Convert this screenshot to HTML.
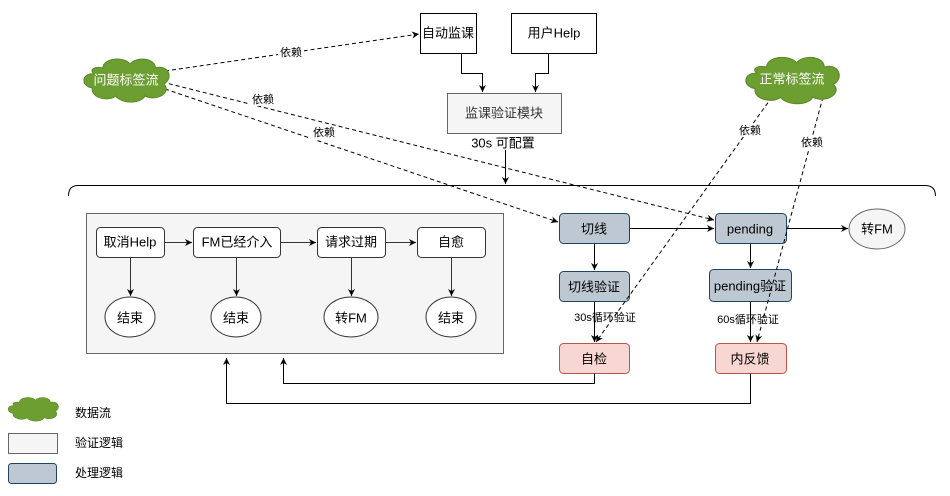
<!DOCTYPE html>
<html><head><meta charset="utf-8"><style>body{margin:0;background:#fff}svg{display:block}text{font-family:"Liberation Sans","Noto Sans CJK SC",sans-serif}</style></head><body>
<svg width="950" height="496" viewBox="0 0 950 496" xmlns="http://www.w3.org/2000/svg">
<defs>
<marker id="a" markerWidth="8" markerHeight="8" refX="7" refY="4" orient="auto" markerUnits="userSpaceOnUse"><path d="M0,0.5 L7,4 L0,7.5 L2,4 Z" fill="#000"/></marker>
<g id="cloud"><path d="M-30,-6 C-42,-8 -44,6 -32,8 C-34,18 -16,22 -10,16 C-4,24 14,24 18,16 C30,22 44,12 36,4 C46,-2 40,-16 28,-12 C28,-22 10,-24 4,-16 C-2,-24 -22,-22 -22,-12 C-30,-14 -36,-10 -30,-6 Z" fill="#6d9e31" stroke="#5b8a28" stroke-width="1"/></g>
</defs>
<g stroke="#000" fill="none" stroke-width="1">
<!-- top boxes -->
<rect x="420.5" y="13.5" width="56" height="40" fill="#fff"/>
<rect x="511.5" y="13.5" width="85" height="40" fill="#fff"/>
<rect x="447.5" y="93.5" width="114" height="40" fill="#f5f5f5" stroke="#666"/>
<path d="M461.5,53 V73.5 H482.5 V92" marker-end="url(#a)"/>
<path d="M548.5,53 V73.5 H535.5 V92" marker-end="url(#a)"/>
<path d="M505.5,150 V184" marker-end="url(#a)"/>
<!-- brace -->
<path d="M68.5,196 Q68.5,185.5 78,185.5 H925 Q935.5,185.5 935.5,196"/>
<!-- gray container -->
<rect x="86.5" y="213.5" width="417" height="140" fill="#f5f5f5" stroke="#666"/>
<g fill="#fff" stroke="#333">
<rect x="96.5" y="227.5" width="68" height="30" rx="4"/>
<rect x="193.5" y="227.5" width="87" height="30" rx="4"/>
<rect x="317.5" y="227.5" width="68" height="30" rx="4"/>
<rect x="417.5" y="227.5" width="68" height="30" rx="4"/>
<ellipse cx="130" cy="317" rx="25" ry="20"/>
<ellipse cx="236" cy="317" rx="25" ry="20"/>
<ellipse cx="351" cy="317" rx="27" ry="20"/>
<ellipse cx="451" cy="317" rx="25" ry="20"/>
</g>
<g stroke="#333">
<path d="M164.5,242.5 H192" marker-end="url(#a)"/>
<path d="M280.5,242.5 H316" marker-end="url(#a)"/>
<path d="M385.5,242.5 H416" marker-end="url(#a)"/>
<path d="M130.5,257.5 V296" marker-end="url(#a)"/>
<path d="M236.5,257.5 V296" marker-end="url(#a)"/>
<path d="M351.5,257.5 V296" marker-end="url(#a)"/>
<path d="M451.5,257.5 V296" marker-end="url(#a)"/>
</g>
<!-- right side -->
<g fill="#bdc8d3" stroke="#23445d">
<rect x="559.5" y="213.5" width="70" height="30" rx="4"/>
<rect x="559.5" y="271.5" width="70" height="30" rx="4"/>
<rect x="715.5" y="213.5" width="71" height="30" rx="4"/>
<rect x="709.5" y="269.5" width="82" height="32" rx="4"/>
</g>
<g fill="#f8d7d3" stroke="#b85450">
<rect x="559.5" y="343.5" width="70" height="30" rx="4"/>
<rect x="715.5" y="343.5" width="71" height="30" rx="4"/>
</g>
<ellipse cx="877" cy="229" rx="28" ry="20" fill="#f5f5f5" stroke="#666"/>
<path d="M629.5,228.5 H714" marker-end="url(#a)"/>
<path d="M786.5,228.5 H848" marker-end="url(#a)"/>
<path d="M594.5,243.5 V270" marker-end="url(#a)"/>
<path d="M750.5,243.5 V268" marker-end="url(#a)"/>
<path d="M594.5,301.5 V342" marker-end="url(#a)"/>
<path d="M750.5,301.5 V342" marker-end="url(#a)"/>
<path d="M594.5,373.5 V383.5 H283.5 V358" marker-end="url(#a)"/>
<path d="M750.5,373.5 V403.5 H226.5 V358" marker-end="url(#a)"/>
<!-- dashed -->
<g stroke-dasharray="4,3">
<path d="M165,71 L419,34" marker-end="url(#a)"/>
<path d="M162,82 L714,220" marker-end="url(#a)"/>
<path d="M165,89 L558,222" marker-end="url(#a)"/>
<path d="M772,97 L596,342" marker-end="url(#a)"/>
<path d="M823,97 L757,342" marker-end="url(#a)"/>
</g>
<!-- legend boxes -->
<rect x="8.5" y="433.5" width="49" height="20" fill="#f5f5f5" stroke="#666"/>
<rect x="8.5" y="463.5" width="48" height="20" rx="3" fill="#bdc8d3" stroke="#23445d"/>
</g>
<use href="#cloud" transform="translate(126,80) scale(1.05,1)"/>
<use href="#cloud" transform="translate(792,80) scale(1.15,1.08)"/>
<use href="#cloud" transform="translate(33,409) scale(0.62,0.55)"/>
<g font-size="13" fill="#000" text-anchor="middle" dominant-baseline="central">
<text x="448" y="33">自动监课</text>
<text x="554" y="33">用户Help</text>
<text x="504" y="113" fill="#333">监课验证模块</text>
<text x="503" y="143">30s 可配置</text>
<text x="126" y="80" fill="#fff">问题标签流</text>
<text x="792" y="79" fill="#fff">正常标签流</text>
<text x="130" y="242">取消Help</text>
<text x="237" y="242">FM已经介入</text>
<text x="351" y="242">请求过期</text>
<text x="451" y="242">自愈</text>
<text x="130" y="318">结束</text>
<text x="236" y="318">结束</text>
<text x="351" y="318">转FM</text>
<text x="451" y="318">结束</text>
<text x="594" y="229">切线</text>
<text x="594" y="287">切线验证</text>
<text x="594" y="359">自检</text>
<text x="750" y="229">pending</text>
<text x="750" y="286">pending验证</text>
<text x="750" y="359">内反馈</text>
<text x="877" y="229">转FM</text>
</g>
<g font-size="11" fill="#000" text-anchor="middle" dominant-baseline="central">
<rect x="278" y="46" width="26" height="13" fill="#fff"/><text x="291" y="53">依赖</text>
<rect x="250" y="93" width="26" height="13" fill="#fff"/><text x="263" y="100">依赖</text>
<rect x="311" y="127" width="26" height="13" fill="#fff"/><text x="324" y="133">依赖</text>
<rect x="737" y="124" width="26" height="13" fill="#fff"/><text x="750" y="131">依赖</text>
<rect x="799" y="136" width="26" height="13" fill="#fff"/><text x="812" y="143">依赖</text>
<text x="605" y="318">30s循环验证</text>
<text x="748" y="320">60s循环验证</text>
</g>
<g font-size="12" fill="#000" dominant-baseline="central">
<text x="75" y="413">数据流</text>
<text x="75" y="443">验证逻辑</text>
<text x="75" y="473">处理逻辑</text>
</g>
</svg>
</body></html>
